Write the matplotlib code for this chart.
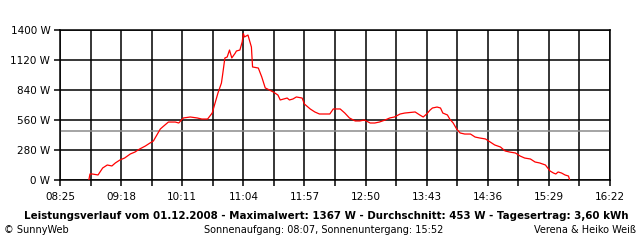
import numpy as np
import matplotlib.pyplot as plt
from matplotlib.ticker import FixedLocator, FuncFormatter

# power readings (time of day, watts)
times = ["08:50", "08:51", "08:53", "08:58", "09:02", "09:06", "09:10", "09:13",
         "09:17", "09:21", "09:26", "09:30", "09:34", "09:39", "09:43", "09:46",
         "09:49", "09:52", "09:54", "09:59", "10:05", "10:08", "10:12", "10:18",
         "10:24", "10:28", "10:33", "10:37", "10:39", "10:42", "10:45", "10:46",
         "10:48", "10:50", "10:52", "10:54", "10:57", "10:58", "11:01", "11:03",
         "11:04", "11:05", "11:08", "11:11", "11:12", "11:17", "11:20", "11:23",
         "11:25", "11:30", "11:34", "11:36", "11:42", "11:44", "11:47", "11:50",
         "11:55", "11:57", "12:02", "12:06", "12:10", "12:15", "12:19", "12:22",
         "12:28", "12:32", "12:36", "12:41", "12:45", "12:49", "12:54", "12:58",
         "13:02", "13:07", "13:11", "13:15", "13:20", "13:24", "13:33", "13:37",
         "13:40", "13:43", "13:46", "13:48", "13:52", "13:55", "13:57", "14:01",
         "14:03", "14:06", "14:09", "14:12", "14:16", "14:21", "14:25", "14:29",
         "14:34", "14:38", "14:42", "14:47", "14:51", "14:55", "15:00", "15:04",
         "15:08", "15:13", "15:17", "15:21", "15:26", "15:28", "15:30", "15:33",
         "15:35", "15:37", "15:40", "15:43", "15:46", "15:47"]
watts = [0, 56, 56, 47, 112, 140, 131, 159,
         187, 205, 243, 261, 289, 317, 345, 364,
         420, 476, 495, 541, 541, 532, 579, 588,
         579, 569, 569, 625, 700, 812, 905, 980,
         1139, 1148, 1213, 1139, 1185, 1204, 1213, 1288,
         1367, 1335, 1353, 1241, 1055, 1045, 961, 859,
         849, 821, 793, 747, 765, 747, 756, 775,
         765, 709, 663, 635, 616, 616, 616, 663,
         663, 625, 579, 551, 551, 560, 532, 532,
         541, 560, 579, 588, 616, 625, 635, 607,
         588, 616, 653, 672, 681, 672, 625, 607,
         569, 532, 476, 439, 429, 429, 401, 392,
         383, 355, 327, 308, 271, 261, 252, 224,
         205, 196, 168, 159, 140, 112, 84, 65,
         56, 75, 65, 47, 37, 0]

average = 453
y_ticks = [0, 280, 560, 840, 1120, 1400]
x_start, x_end = "08:25", "16:22"

title = ("Leistungsverlauf vom 01.12.2008 - Maximalwert: 1367 W - "
         "Durchschnitt: 453 W - Tagesertrag: 3,60 kWh")
footer_left = "\u00a9 SunnyWeb"
footer_mid = "Sonnenaufgang: 08:07, Sonnenuntergang: 15:52"
footer_right = "Verena & Heiko Wei\u00df"


def to_min(s):
    h, m = s.split(":")
    return int(h) * 60 + int(m)


def fmt_time(v, pos=None):
    v = int(round(v))
    return f"{v // 60:02d}:{v % 60:02d}"


t = np.array([to_min(s) for s in times])
w = np.array(watts)
t0, t1 = to_min(x_start), to_min(x_end)

fig = plt.figure(figsize=(6.4, 2.4), dpi=100)
ax = fig.add_axes([60 / 640, 60 / 240, 550 / 640, 150 / 240])

major = np.arange(t0, t1 + 1, 53)
minor = np.arange(t0 + 26.5, t1, 53)
ax.xaxis.set_major_locator(FixedLocator(major))
ax.xaxis.set_minor_locator(FixedLocator(minor))
ax.xaxis.set_major_formatter(FuncFormatter(fmt_time))
ax.set_yticks(y_ticks)
ax.set_yticklabels([f"{v} W" for v in y_ticks])
ax.set_xlim(t0, t1)
ax.set_ylim(0, 1400)

ax.grid(True, which="both", color="black", linewidth=1.1)
ax.set_axisbelow(True)
ax.axhline(average, color="#8c8c8c", linewidth=1.1, zorder=2)
ax.plot(t, w, color="red", linewidth=0.9, zorder=3)

for sp in ax.spines.values():
    sp.set_linewidth(1.1)
ax.tick_params(which="both", direction="out", length=4, width=1.1,
               labelsize=7.5, pad=3)
ax.tick_params(axis="x", which="major", pad=5)

fig.text(0.51, 1 - 216 / 240, title, ha="center", va="center",
         fontsize=7.4, fontweight="bold")
fig.text(4 / 640, 1 - 230 / 240, footer_left, ha="left", va="center", fontsize=7)
fig.text(0.505, 1 - 230 / 240, footer_mid, ha="center", va="center", fontsize=7)
fig.text(636 / 640, 1 - 230 / 240, footer_right, ha="right", va="center", fontsize=7)

fig.savefig("out.png", dpi=100)
